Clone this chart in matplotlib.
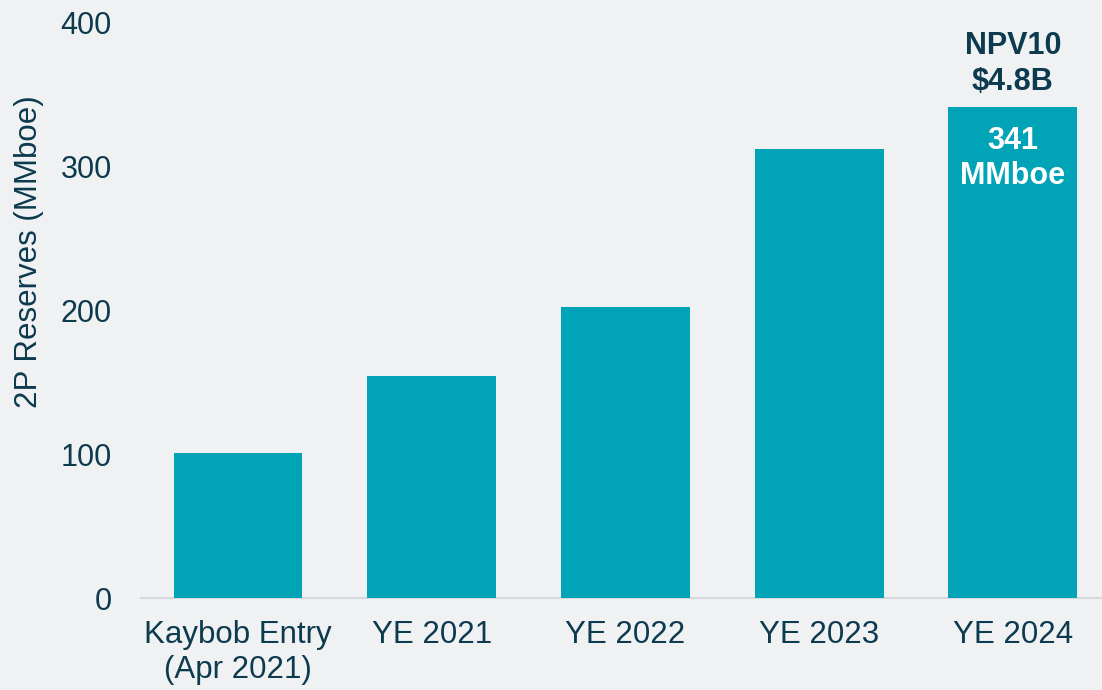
import matplotlib
matplotlib.use("Agg")
import matplotlib.pyplot as plt

categories = ["Kaybob Entry\n(Apr 2021)", "YE 2021", "YE 2022", "YE 2023", "YE 2024"]
reserves = [101, 154, 202, 312, 341]
yticks = [0, 100, 200, 300, 400]

BG = "#f0f1f3"
BAR = "#00a4b6"
TXT = "#0c3a4e"

plt.rcParams['font.family'] = ['Liberation Sans', 'DejaVu Sans']

fig = plt.figure(figsize=(11.02, 6.9), dpi=100, facecolor=BG)
ax = fig.add_axes([0.128, 1 - 598 / 690, 0.872, 576 / 690])
ax.set_facecolor(BG)

x = list(range(len(categories)))
ax.bar(x, reserves, width=0.665, color=BAR, zorder=2)

ax.set_xlim(-0.5, 4.46)
ax.set_ylim(0, 400)
ax.set_yticks(yticks)
ax.set_yticklabels([str(v) for v in yticks])
ax.set_xticks(x)
ax.set_xticklabels(categories, linespacing=1.2)

for s in ["top", "right", "left"]:
    ax.spines[s].set_visible(False)
ax.spines["bottom"].set_color("#d6d8dc")
ax.spines["bottom"].set_linewidth(1.5)
ax.spines["bottom"].set_zorder(1)

ax.tick_params(axis="y", length=0, pad=21, labelsize=22, labelcolor=TXT)
ax.tick_params(axis="x", length=0, pad=16, labelsize=22.5, labelcolor=TXT)
ax.set_ylabel("2P Reserves (MMboe)", fontsize=22.5, color=TXT)
ax.yaxis.set_label_coords((44 - 141) / 961, (598 - 252) / 576)

last = len(categories) - 1
ax.text(last, reserves[last] + 7, "NPV10\n$4.8B", ha="center", va="bottom",
        fontsize=22, fontweight="bold", color=TXT, linespacing=1.25)
ax.text(last, reserves[last] - 13, "341\nMMboe", ha="center", va="top",
        fontsize=22, fontweight="bold", color="white", linespacing=1.25, zorder=3)

fig.savefig("out.png", dpi=100, facecolor=BG)
